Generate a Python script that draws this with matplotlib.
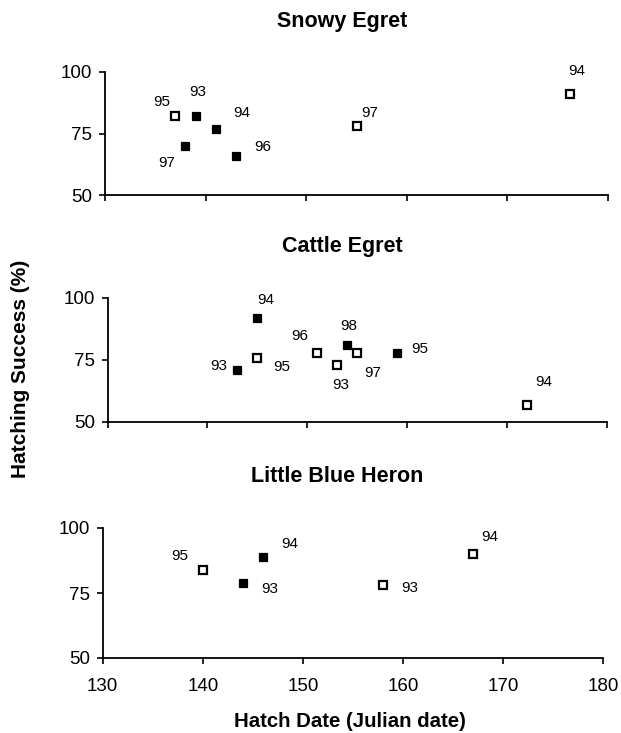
import matplotlib
matplotlib.use("Agg")
import matplotlib.pyplot as plt

plt.rcParams['font.family'] = ['Liberation Sans', 'DejaVu Sans']

# Snowy Egret
se_closed_x = [139, 141, 138, 143]
se_closed_y = [82, 77, 70, 66]
se_closed_lbl = ["93", "94", "97", "96"]
se_open_x = [137, 155, 176.2]
se_open_y = [82, 78, 91]
se_open_lbl = ["95", "97", "94"]

# Cattle Egret
ce_closed_x = [145, 143, 154, 159]
ce_closed_y = [92, 71, 81, 78]
ce_closed_lbl = ["94", "93", "98", "95"]
ce_open_x = [145, 151, 155, 153, 172]
ce_open_y = [76, 78, 78, 73, 57]
ce_open_lbl = ["95", "96", "97", "93", "94"]

# Little Blue Heron
lb_closed_x = [146, 144]
lb_closed_y = [89, 79]
lb_closed_lbl = ["94", "93"]
lb_open_x = [140, 158, 167]
lb_open_y = [84, 78, 90]
lb_open_lbl = ["95", "93", "94"]

x_ticks = [130, 140, 150, 160, 170, 180]
y_ticks = [50, 75, 100]

W, H = 621, 733
fig = plt.figure(figsize=(W / 100, H / 100), dpi=100)


def make_ax(left, right, top, bottom):
    return fig.add_axes([left / W, 1 - bottom / H, (right - left) / W, (bottom - top) / H])


panels = [
    dict(box=(105, 608, 72, 195), title="Snowy Egret", title_x=342, title_base=27.3,
         cx=se_closed_x, cy=se_closed_y, cl=se_closed_lbl,
         cofs=[(2, 24), (26, 16), (-19, -17), (27, 9)],
         ox=se_open_x, oy=se_open_y, ol=se_open_lbl,
         oofs=[(-14, 14), (13, 13), (7, 23)]),
    dict(box=(107.5, 606.5, 298, 422), title="Cattle Egret", title_x=342, title_base=252.3,
         cx=ce_closed_x, cy=ce_closed_y, cl=ce_closed_lbl,
         cofs=[(9, 18), (-18, 4), (2, 19), (23, 4)],
         ox=ce_open_x, oy=ce_open_y, ol=ce_open_lbl,
         oofs=[(25, -9), (-17, 17), (16, -20), (4, -20), (17, 23)]),
    dict(box=(102.7, 603.3, 528, 658), title="Little Blue Heron", title_x=337.5, title_base=481.7,
         cx=lb_closed_x, cy=lb_closed_y, cl=lb_closed_lbl,
         cofs=[(27, 13), (27, -6)],
         ox=lb_open_x, oy=lb_open_y, ol=lb_open_lbl,
         oofs=[(-23, 14), (27, -3), (17, 17)]),
]

axes = []
for i, p in enumerate(panels):
    ax = make_ax(*p["box"])
    axes.append(ax)
    ax.plot(p["cx"], p["cy"], linestyle='none', marker='s', markersize=6.2,
            markerfacecolor='black', markeredgecolor='black', markeredgewidth=0.9, clip_on=False)
    ax.plot(p["ox"], p["oy"], linestyle='none', marker='s', markersize=5.5,
            markerfacecolor='white', markeredgecolor='black', markeredgewidth=1.6, clip_on=False)
    for x, y, t, (dx, dy) in zip(p["cx"], p["cy"], p["cl"], p["cofs"]):
        ax.annotate(t, (x, y), xytext=(dx, dy), textcoords='offset pixels',
                    ha='center', va='center', fontsize=11)
    for x, y, t, (dx, dy) in zip(p["ox"], p["oy"], p["ol"], p["oofs"]):
        ax.annotate(t, (x, y), xytext=(dx, dy), textcoords='offset pixels',
                    ha='center', va='center', fontsize=11)
    ax.set_xlim(130, 180)
    ax.set_ylim(50, 100)
    ax.set_xticks(x_ticks)
    ax.set_yticks(y_ticks)
    for s in ['top', 'right']:
        ax.spines[s].set_visible(False)
    for s in ['left', 'bottom']:
        ax.spines[s].set_linewidth(1.3)
    ax.tick_params(axis='both', direction='out', length=4.2, width=1.2, labelsize=13.5)
    ax.tick_params(axis='x', pad=10)
    ax.tick_params(axis='y', pad=5)
    if i < 2:
        ax.tick_params(axis='x', labelbottom=False)
    fig.text(p["title_x"] / W, 1 - p["title_base"] / H, p["title"], ha='center', va='baseline',
             fontsize=15.5, fontweight='bold')

fig.text(21 / W, 1 - 368.5 / H, "Hatching Success (%)", rotation=90, ha='center', va='center',
         fontsize=15, fontweight='bold')
fig.text(350 / W, 1 - 727 / H, "Hatch Date (Julian date)", ha='center', va='baseline',
         fontsize=14.7, fontweight='bold')

fig.savefig("out.png", dpi=100)
